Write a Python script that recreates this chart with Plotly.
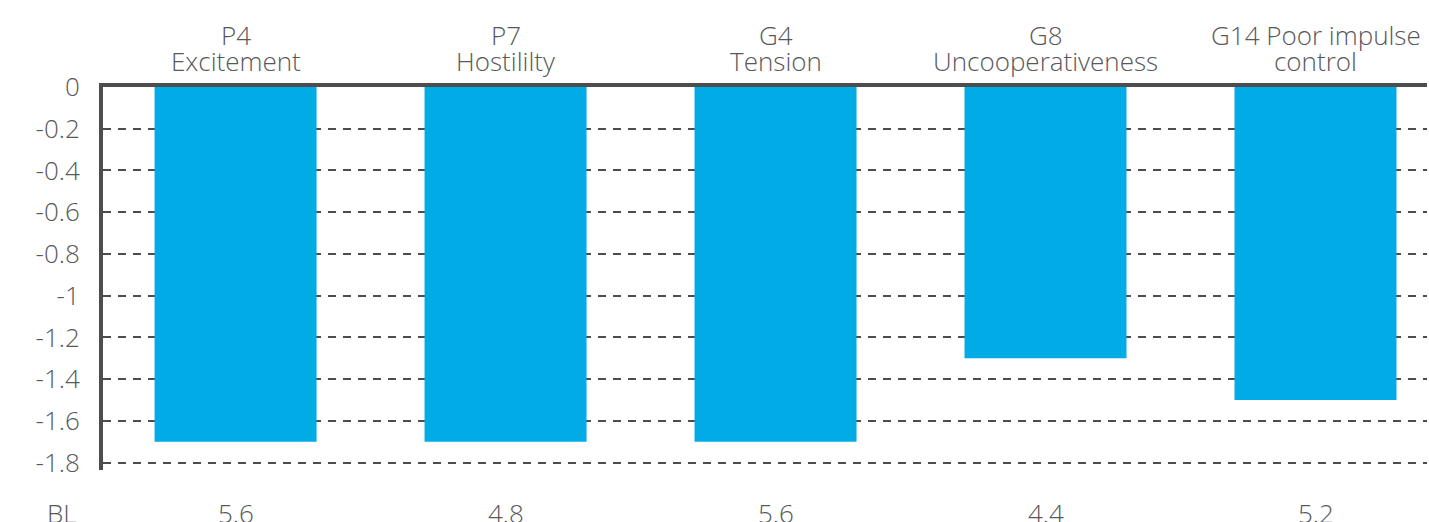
import plotly.graph_objects as go

# PANSS item changes
item_codes = ["P4", "P7", "G4", "G8", "G14 Poor impulse"]
item_names = ["Excitement", "Hostililty", "Tension", "Uncooperativeness", "control"]
change = [-1.7, -1.7, -1.7, -1.3, -1.5]
baseline = ["5.6", "4.8", "5.6", "4.4", "5.2"]
y_ticks = [0, -0.2, -0.4, -0.6, -0.8, -1, -1.2, -1.4, -1.6, -1.8]
y_tick_text = ["0", "-0.2", "-0.4", "-0.6", "-0.8", "-1", "-1.2", "-1.4", "-1.6", "-1.8"]

TEXT = "#58585a"
AXIS = "#4d4d4f"
FONT = "Open Sans, Noto Sans, sans-serif"
SIZE = 26
WEIGHT = 300

xpos = list(range(len(item_codes)))

fig = go.Figure(go.Bar(
    x=xpos, y=change, width=0.6,
    marker=dict(color="#00abe6", line=dict(width=0)),
    hoverinfo="skip",
))


def label(x, text, y, yshift, xref="x"):
    return dict(x=x, y=y, xref=xref, yref="paper", text=text, showarrow=False,
                xanchor="center", yanchor="middle", yshift=yshift,
                font=dict(size=SIZE, color=TEXT, family=FONT, weight=WEIGHT))


annotations = []
# two-line category headers above the plot
for xi, code, name in zip(xpos, item_codes, item_names):
    annotations.append(label(xi, code, 1, 52))
    annotations.append(label(xi, name, 1, 26))

# baseline row under the plot
annotations.append(label(-0.031, "BL", 0, -43, xref="paper"))
for xi, bl in zip(xpos, baseline):
    annotations.append(label(xi, bl, 0, -43))

fig.update_layout(
    width=1429, height=522,
    margin=dict(l=103, r=2, t=87, b=52),
    paper_bgcolor="white", plot_bgcolor="white",
    showlegend=False,
    font=dict(family=FONT, color=TEXT, size=SIZE, weight=WEIGHT),
    annotations=annotations,
    xaxis=dict(
        side="top", range=[-0.491, 4.413],
        showticklabels=False,
        showline=True, linecolor=AXIS, linewidth=4,
        showgrid=False, zeroline=False, ticks="",
        fixedrange=True,
    ),
    yaxis=dict(
        range=[-1.835, 0],
        tickmode="array", tickvals=y_ticks, ticktext=y_tick_text,
        tickfont=dict(size=SIZE, color=TEXT, family=FONT, weight=WEIGHT),
        showline=True, linecolor=AXIS, linewidth=4,
        showgrid=True, gridcolor=AXIS, gridwidth=2, griddash="8px,7px",
        zeroline=False, ticks="", ticklabelstandoff=14,
        fixedrange=True,
    ),
)

fig.write_html("out.html")
